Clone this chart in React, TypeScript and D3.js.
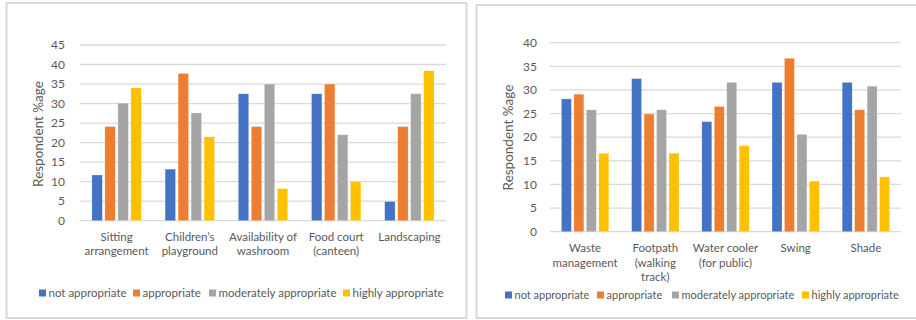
import React from 'react';
import * as d3 from 'd3';

// series shared by both charts
const seriesNames = ['not appropriate', 'appropriate', 'moderately appropriate', 'highly appropriate'];
const seriesColors = ['#4472C4', '#ED7D31', '#A5A5A5', '#FFC000'];

// left chart
const leftCategories = [
  ['Sitting', 'arrangement'],
  ['Children\u2019s', 'playground'],
  ['Availability of', 'washroom'],
  ['Food court', '(canteen)'],
  ['Landscaping'],
];
const leftNotAppropriate = [11.7, 13.2, 32.5, 32.5, 4.9];
const leftAppropriate = [24.1, 37.7, 24.1, 35.0, 24.1];
const leftModerately = [30.1, 27.6, 35.0, 22.0, 32.5];
const leftHighly = [34.0, 21.5, 8.2, 10.0, 38.4];
const leftTicks = [0, 5, 10, 15, 20, 25, 30, 35, 40, 45];

// right chart
const rightCategories = [
  ['Waste', 'management'],
  ['Footpath', '(walking', 'track)'],
  ['Water cooler', '(for public)'],
  ['Swing'],
  ['Shade'],
];
const rightNotAppropriate = [28.1, 32.4, 23.3, 31.6, 31.6];
const rightAppropriate = [29.1, 24.9, 26.5, 36.7, 25.8];
const rightModerately = [25.8, 25.8, 31.6, 20.6, 30.8];
const rightHighly = [16.6, 16.6, 18.2, 10.7, 11.6];
const rightTicks = [0, 5, 10, 15, 20, 25, 30, 35, 40];

const FONT = 'Lato, "Open Sans", sans-serif';
const TXT = '#595959';
const GRID = '#d9d9d9';

type PanelProps = {
  box: [number, number, number, number];
  plotX: [number, number];
  plotY: [number, number];
  categories: string[][];
  values: number[][];
  ticks: number[];
  tickX: number;
  titleX: number;
  titleY: number;
  catY: number;
  catLine: number;
  legendY: number;
  legendX: number[];
  legendSize: number;
};

function Panel(p: PanelProps) {
  const maxTick = p.ticks[p.ticks.length - 1];
  const y = d3.scaleLinear().domain([0, maxTick]).range(p.plotY);
  const idx = p.categories.map((_, i) => i);
  const x0 = d3.scaleBand<number>().domain(idx).range(p.plotX).paddingInner(0.29).paddingOuter(0.145);
  const x1 = d3.scaleBand<number>().domain([0, 1, 2, 3]).range([0, x0.bandwidth()]).paddingInner(0.2).paddingOuter(0.1);
  const [bx, by, bw, bh] = p.box;
  return (
    <g>
      <rect x={bx} y={by} width={bw} height={bh} fill="#fff" stroke={GRID} strokeWidth={2} />
      {p.ticks.map((t) => (
        <g key={t}>
          <line x1={p.plotX[0]} x2={p.plotX[1]} y1={y(t)} y2={y(t)} stroke={GRID} strokeWidth={1.3} />
          <text x={p.tickX} y={y(t)} dy="0.35em" textAnchor="end" fill={TXT} fontSize={12}>{t}</text>
        </g>
      ))}
      <text
        transform={`translate(${p.titleX},${p.titleY}) rotate(-90)`}
        textAnchor="middle" dy="0.35em" fill={TXT} fontSize={13.5}
      >Respondent %age</text>
      {idx.map((ci) => (
        <g key={ci} transform={`translate(${x0(ci)},0)`}>
          {p.values.map((vals, si) => (
            <rect key={si} x={x1(si)} y={y(vals[ci])} width={x1.bandwidth()} height={y(0) - y(vals[ci])}
              fill={seriesColors[si]} stroke="#fff" strokeOpacity={0.4} strokeWidth={0.6} />
          ))}
          {p.categories[ci].map((line, li) => (
            <text key={li} x={x0.bandwidth() / 2} y={p.catY + li * p.catLine} textAnchor="middle" fill={TXT} fontSize={11.5}>{line}</text>
          ))}
        </g>
      ))}
      {seriesNames.map((name, si) => (
        <g key={name} transform={`translate(${p.legendX[si]},${p.legendY})`}>
          <rect x={0} y={-7.5} width={7} height={7} fill={seriesColors[si]} />
          <text x={9.5} y={0} fill={TXT} fontSize={p.legendSize}>{name}</text>
        </g>
      ))}
    </g>
  );
}

export default function App() {
  return (
    <svg width={916} height={320} style={{ position: 'absolute', left: 0, top: 0, fontFamily: FONT }}>
      <rect width={916} height={320} fill="#fff" />
      <Panel
        box={[6.5, 3, 460, 315]}
        plotX={[80, 446]}
        plotY={[220.7, 45]}
        categories={leftCategories}
        values={[leftNotAppropriate, leftAppropriate, leftModerately, leftHighly]}
        ticks={leftTicks}
        tickX={65}
        titleX={38}
        titleY={134}
        catY={241}
        catLine={14}
        legendY={297}
        legendX={[39, 133, 209, 343]}
        legendSize={11.5}
      />
      <Panel
        box={[476.5, 5, 445, 313]}
        plotX={[550, 901]}
        plotY={[231.7, 42.7]}
        categories={rightCategories}
        values={[rightNotAppropriate, rightAppropriate, rightModerately, rightHighly]}
        ticks={rightTicks}
        tickX={537}
        titleX={508}
        titleY={137.5}
        catY={252}
        catLine={14.6}
        legendY={299}
        legendX={[505, 597, 672, 802]}
        legendSize={11}
      />
    </svg>
  );
}
